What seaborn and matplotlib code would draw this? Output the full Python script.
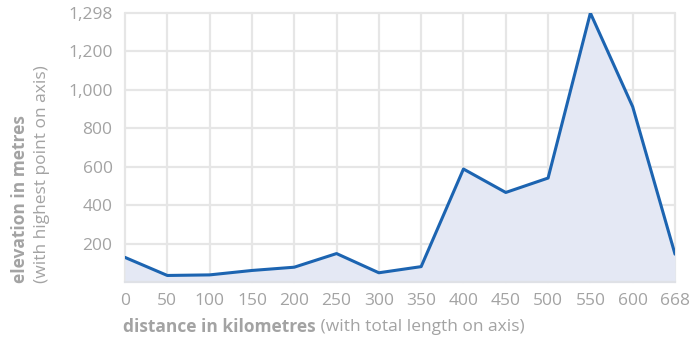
import numpy as np
import pandas as pd
import matplotlib
matplotlib.use("Agg")
import matplotlib.pyplot as plt
import seaborn as sns
from matplotlib.ticker import FixedLocator, FuncFormatter

# Elevation profile: sampled every 50 km, last sample at the end of the route
distance_km = [0, 50, 100, 150, 200, 250, 300, 350, 400, 450, 500, 550, 600, 668]
elevation_m = [128, 34, 37, 60, 77, 148, 48, 80, 588, 466, 541, 1298, 912, 145]
elevation_ticks = [200, 400, 600, 800, 1000, 1200, 1298]

LINE = "#1c64b1"
FILL = "#e4e8f4"
GRID = "#e6e6e6"
TEXT = "#a3a3a3"

sns.set_theme(style="white")
plt.rcParams["font.family"] = ["Open Sans", "DejaVu Sans"]

df = pd.DataFrame({
    "step": np.arange(len(distance_km)),
    "distance": distance_km,
    "elevation": elevation_m,
})

W, H = 691, 338
fig = plt.figure(figsize=(W / 100, H / 100), dpi=100)
ax = fig.add_axes([125 / W, (H - 282) / H, (675 - 125) / W, (282 - 13) / H])

# Linear up to 1200 m, the stretch up to the summit gets a full grid step
top_tick, summit = elevation_ticks[-2], elevation_ticks[-1]
k = 200 / (summit - top_tick)


def fwd(y):
    y = np.asarray(y, dtype=float)
    return np.where(y <= top_tick, y, top_tick + (y - top_tick) * k)


def inv(t):
    t = np.asarray(t, dtype=float)
    return np.where(t <= top_tick, t, top_tick + (t - top_tick) / k)


ax.set_yscale("function", functions=(fwd, inv))

ax.fill_between(df["step"], 0, df["elevation"], color=FILL, lw=0, zorder=1)
sns.lineplot(data=df, x="step", y="elevation", ax=ax, color=LINE, lw=2.2,
             sort=False, zorder=3, solid_joinstyle="round")

ax.set_xlim(0, len(distance_km) - 1)
ax.set_ylim(0, summit)
ax.xaxis.set_major_locator(FixedLocator(df["step"].tolist()))
ax.set_xticklabels([str(d) for d in distance_km])
ax.yaxis.set_major_locator(FixedLocator(elevation_ticks))
ax.yaxis.set_minor_locator(FixedLocator([]))
ax.yaxis.set_major_formatter(FuncFormatter(lambda v, p: f"{v:,.0f}"))

ax.grid(True, color=GRID, lw=1.6, zorder=0)
ax.set_axisbelow(True)
for gl in ax.get_xgridlines() + ax.get_ygridlines():
    gl.set_clip_on(False)

for side in ("top", "right", "left"):
    ax.spines[side].set_visible(False)
ax.spines["bottom"].set_color("#dfe1e6")
ax.spines["bottom"].set_linewidth(1.6)

ax.tick_params(axis="both", length=0, labelsize=12.5, labelcolor=TEXT)
ax.tick_params(axis="y", pad=9)
ax.tick_params(axis="x", pad=8)
ax.set_xlabel("")
ax.set_ylabel("")

# Axis titles: bold main text followed by a light note
xt = fig.text(123 / W, 1 - 327 / H, "distance in kilometres", fontsize=12.5,
              fontweight="bold", color=TEXT, va="center", ha="left")
ax.annotate(" (with total length on axis)", xy=(1, 0.5), xycoords=xt,
            fontsize=12.5, color=TEXT, va="center", ha="left",
            annotation_clip=False)

fig.text(20 / W, 1 - 283 / H, "elevation in metres", fontsize=12.5,
         fontweight="bold", color=TEXT, rotation=90, ha="center", va="bottom")
fig.text(42 / W, 1 - 283 / H, "(with highest point on axis)", fontsize=12.5,
         color=TEXT, rotation=90, ha="center", va="bottom")

fig.savefig("out.png", dpi=100, facecolor="white")
